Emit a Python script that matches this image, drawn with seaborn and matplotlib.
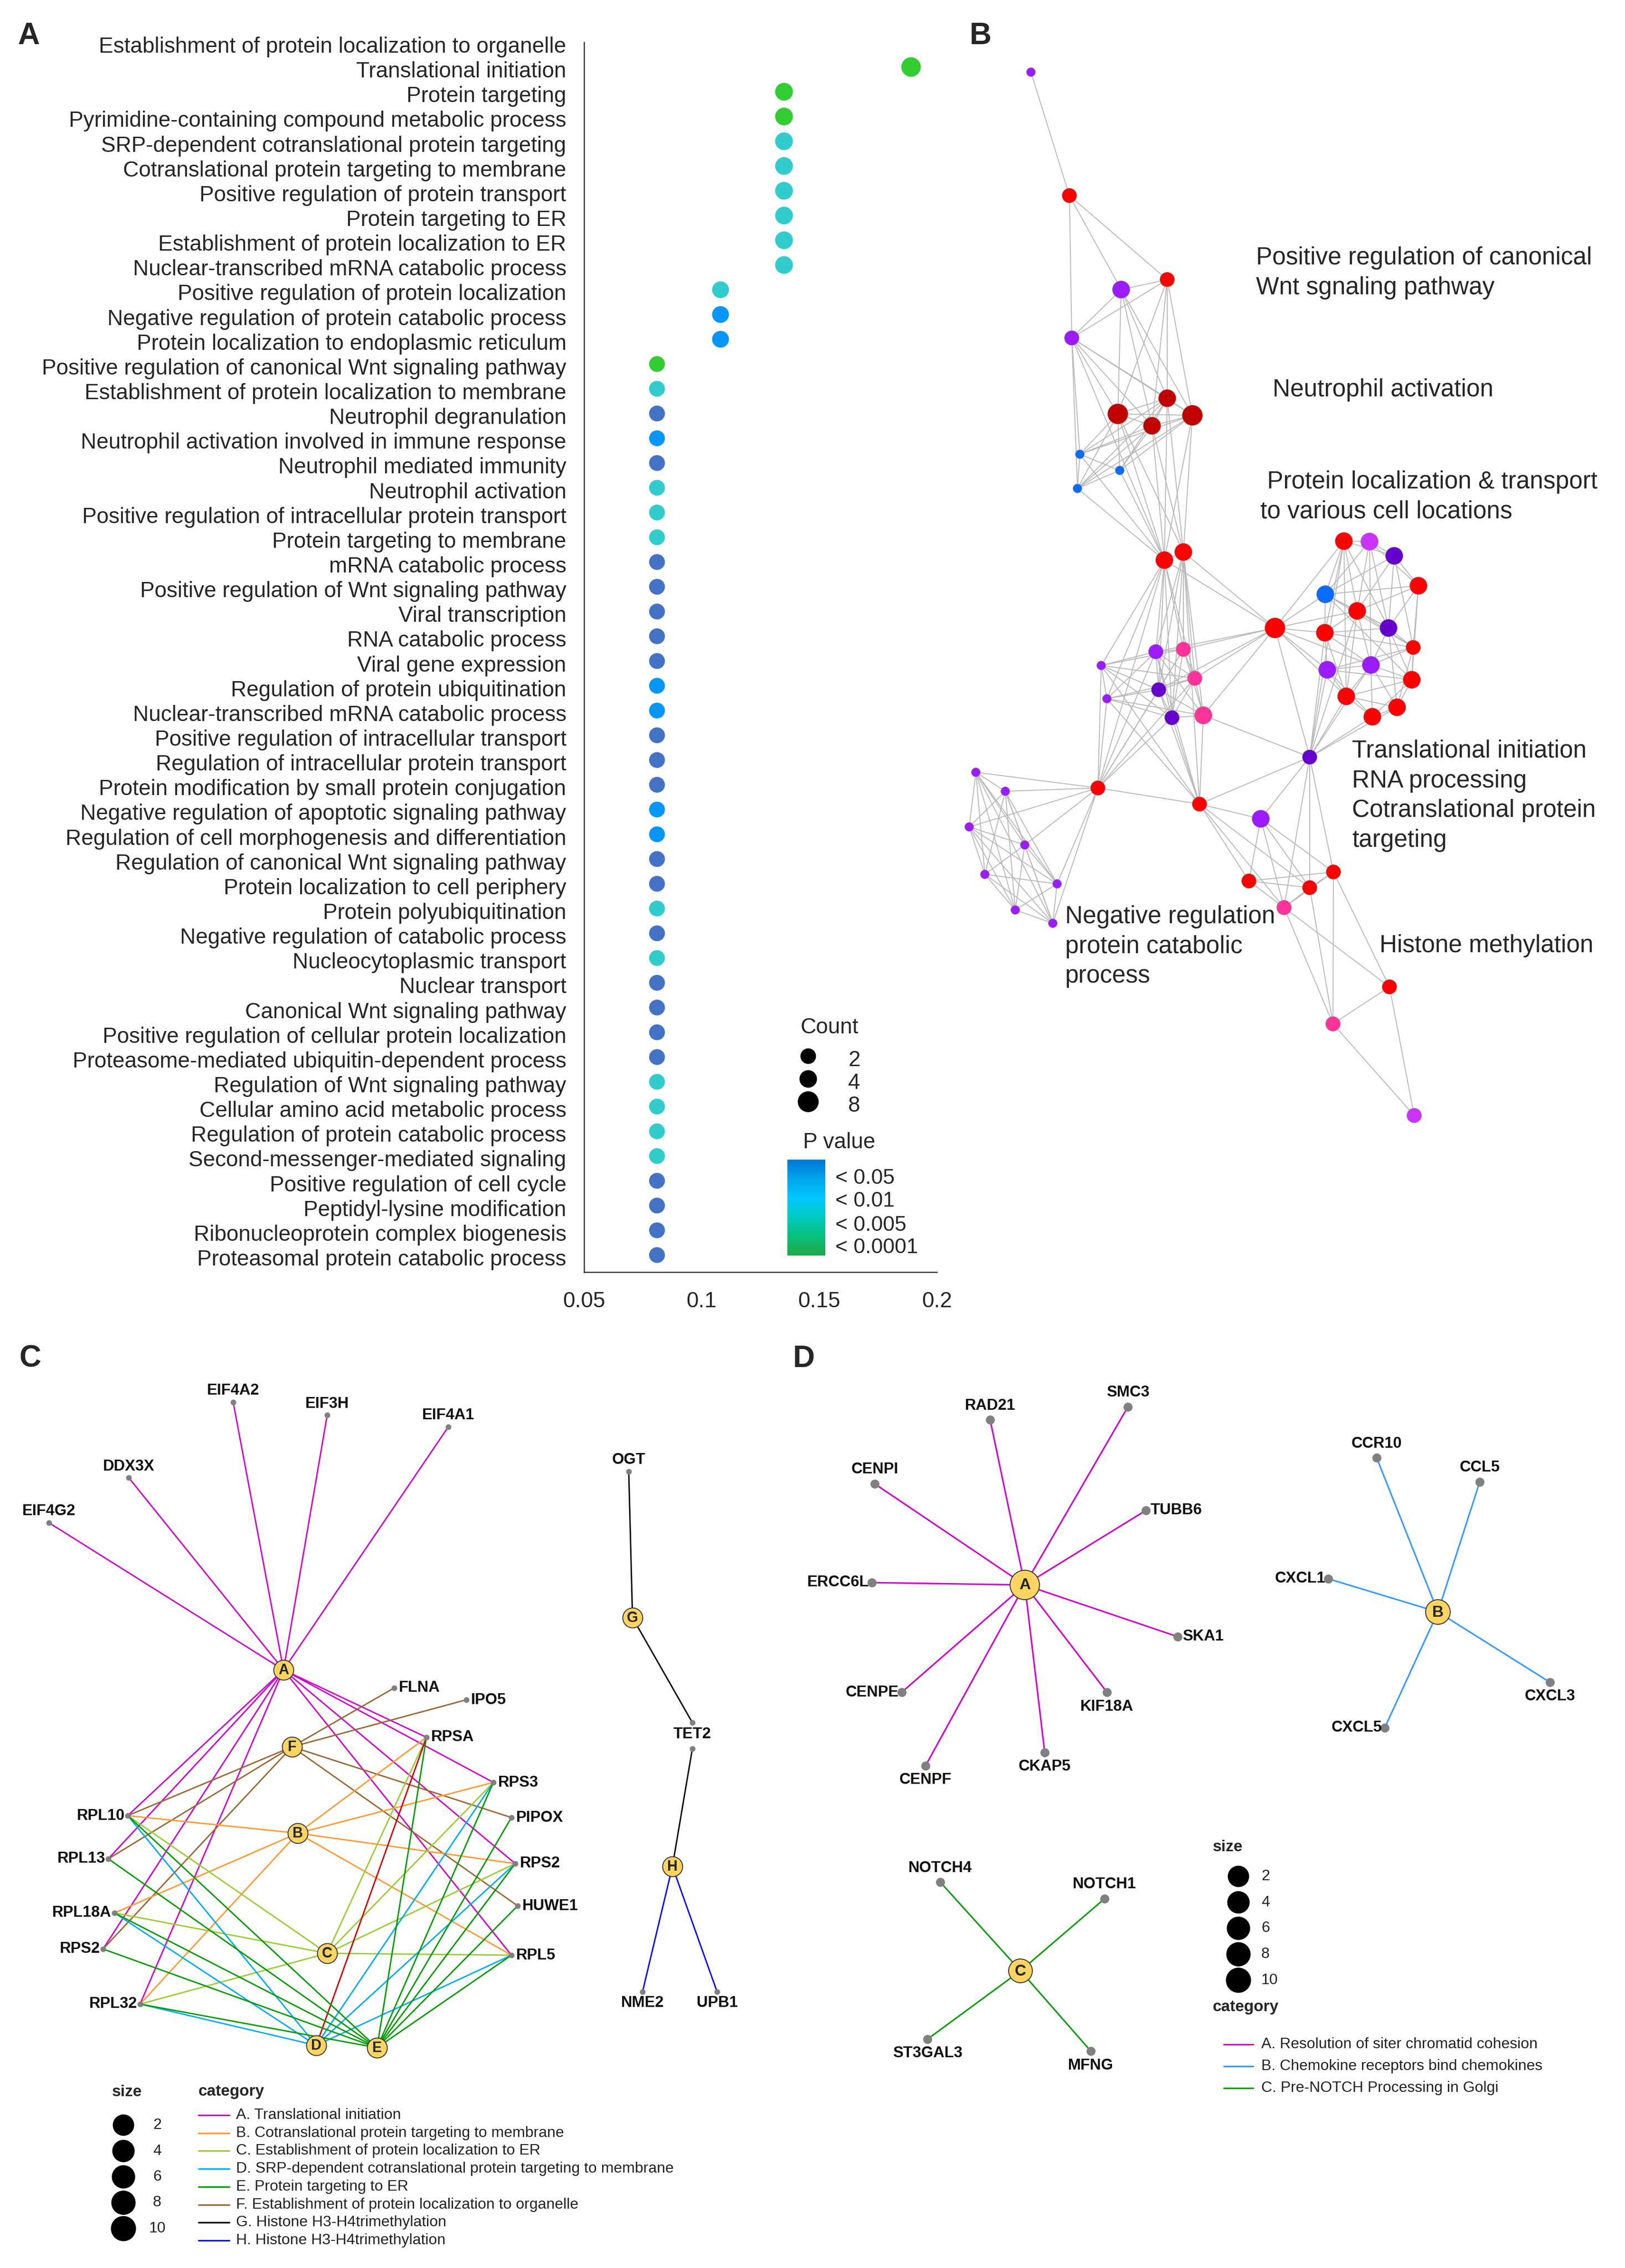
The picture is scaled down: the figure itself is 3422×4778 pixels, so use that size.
import numpy as np
import pandas as pd
import matplotlib
matplotlib.use("Agg")
import matplotlib.pyplot as plt
import seaborn as sns
from matplotlib.collections import LineCollection
from matplotlib.colors import LinearSegmentedColormap, Normalize
from matplotlib.cm import ScalarMappable
from matplotlib.transforms import ScaledTranslation

W, H, DPI = 3422, 4778, 100

# ---------------- panel A: GO enrichment dot plot ----------------
go_terms = [
    "Establishment of protein localization to organelle",
    "Translational initiation",
    "Protein targeting",
    "Pyrimidine-containing compound metabolic process",
    "SRP-dependent cotranslational protein targeting",
    "Cotranslational protein targeting to membrane",
    "Positive regulation of protein transport",
    "Protein targeting to ER",
    "Establishment of protein localization to ER",
    "Nuclear-transcribed mRNA catabolic process",
    "Positive regulation of protein localization",
    "Negative regulation of protein catabolic process",
    "Protein localization to endoplasmic reticulum",
    "Positive regulation of canonical Wnt signaling pathway",
    "Establishment of protein localization to membrane",
    "Neutrophil degranulation",
    "Neutrophil activation involved in immune response",
    "Neutrophil mediated immunity",
    "Neutrophil activation",
    "Positive regulation of intracellular protein transport",
    "Protein targeting to membrane",
    "mRNA catabolic process",
    "Positive regulation of Wnt signaling pathway",
    "Viral transcription",
    "RNA catabolic process",
    "Viral gene expression",
    "Regulation of protein ubiquitination",
    "Nuclear-transcribed mRNA catabolic process",
    "Positive regulation of intracellular transport",
    "Regulation of intracellular protein transport",
    "Protein modification by small protein conjugation",
    "Negative regulation of apoptotic signaling pathway",
    "Regulation of cell morphogenesis and differentiation",
    "Regulation of canonical Wnt signaling pathway",
    "Protein localization to cell periphery",
    "Protein polyubiquitination",
    "Negative regulation of catabolic process",
    "Nucleocytoplasmic transport",
    "Nuclear transport",
    "Canonical Wnt signaling pathway",
    "Positive regulation of cellular protein localization",
    "Proteasome-mediated ubiquitin-dependent process",
    "Regulation of Wnt signaling pathway",
    "Cellular amino acid metabolic process",
    "Regulation of protein catabolic process",
    "Second-messenger-mediated signaling",
    "Positive regulation of cell cycle",
    "Peptidyl-lysine modification",
    "Ribonucleoprotein complex biogenesis",
    "Proteasomal protein catabolic process",
]
gene_count = [8, 7, 5, 5, 5, 5, 5, 5, 5, 5, 4, 4, 4,
              3, 3, 3, 3, 3, 3, 3, 3, 3, 3, 3, 3, 3, 3, 3, 3, 3, 3, 3, 3,
              3, 3, 3, 3, 3, 3, 3, 3, 3, 3, 3, 3, 3, 3, 3, 3, 3]
gene_ratio = [0.216, 0.189, 0.135, 0.135, 0.135, 0.135, 0.135, 0.135, 0.135, 0.135,
              0.108, 0.108, 0.108,
              0.081, 0.081, 0.081, 0.081, 0.081, 0.081, 0.081, 0.081, 0.081, 0.081,
              0.081, 0.081, 0.081, 0.081, 0.081, 0.081, 0.081, 0.081, 0.081, 0.081,
              0.081, 0.081, 0.081, 0.081, 0.081, 0.081, 0.081, 0.081, 0.081, 0.081,
              0.081, 0.081, 0.081, 0.081, 0.081, 0.081, 0.081]
p_level = ["< 0.0001", "< 0.0001", "< 0.0001", "< 0.0001",
           "< 0.005", "< 0.005", "< 0.005", "< 0.005", "< 0.005", "< 0.005", "< 0.005",
           "< 0.01", "< 0.01", "< 0.0001", "< 0.005",
           "< 0.05", "< 0.01", "< 0.05", "< 0.005", "< 0.005", "< 0.005",
           "< 0.05", "< 0.05", "< 0.05", "< 0.05", "< 0.05",
           "< 0.01", "< 0.01", "< 0.05", "< 0.05", "< 0.05", "< 0.01", "< 0.01",
           "< 0.05", "< 0.05", "< 0.005", "< 0.05", "< 0.005",
           "< 0.05", "< 0.05", "< 0.05", "< 0.05",
           "< 0.005", "< 0.005", "< 0.005", "< 0.005",
           "< 0.05", "< 0.05", "< 0.05", "< 0.05"]
p_labels = ["< 0.05", "< 0.01", "< 0.005", "< 0.0001"]
p_colors = {"< 0.05": "#4472c4", "< 0.01": "#0896f7",
            "< 0.005": "#33cccc", "< 0.0001": "#33cc33"}
count_levels = [2, 4, 8]
ratio_ticks = [0.05, 0.1, 0.15, 0.2]
ratio_ticklabels = ["0.05", "0.1", "0.15", "0.2"]

# ---------------- panel B: enrichment map network ----------------
b_x = [2171, 2252, 2361, 2458, 2257, 2354, 2458, 2426, 2511, 2274, 2358, 2269, 2452, 2492,
       2685, 2830, 2884, 2936, 2987, 2791, 2858, 2790, 2924, 2976, 2434, 2492, 2319, 2516,
       2440, 2331, 2468, 2534, 2795, 2887, 2973, 2835, 2942, 2890, 2758, 2312, 2526, 2655,
       2055, 2117, 2041, 2158, 2074, 2226, 2138, 2217, 2808, 2630, 2758, 2704, 2926, 2807, 2978]
b_y = [152, 412, 610, 589, 712, 872, 839, 897, 875, 957, 991, 1029, 1180, 1163,
       1323, 1140, 1141, 1171, 1234, 1252, 1287, 1333, 1323, 1364, 1373, 1368, 1402, 1429,
       1453, 1472, 1512, 1507, 1411, 1401, 1432, 1467, 1490, 1510, 1595, 1660, 1694, 1725,
       1627, 1667, 1742, 1780, 1842, 1862, 1917, 1945, 1837, 1856, 1870, 1912, 2079, 2157, 2350]
b_color = ["violet", "red", "violet", "red", "violet", "darkred", "darkred", "darkred", "darkred",
           "blue", "blue", "blue", "red", "red", "red", "red", "magenta", "indigo", "red", "blue",
           "red", "red", "indigo", "red", "violet", "pink", "violet", "pink", "indigo", "violet",
           "indigo", "pink", "violet", "violet", "red", "red", "red", "red", "indigo", "red", "red",
           "violet", "violet", "violet", "violet", "violet", "violet", "violet", "violet", "violet",
           "red", "red", "red", "pink", "red", "pink", "magenta"]
b_size = ["S", "M", "L", "M", "M", "XL", "L", "L", "XL", "S", "S", "S", "L", "L",
          "XL", "L", "L", "L", "L", "L", "L", "L", "L", "M", "M", "M", "S", "M",
          "M", "S", "M", "L", "L", "L", "L", "L", "L", "L", "M", "M", "M", "L",
          "S", "S", "S", "S", "S", "S", "S", "S", "M", "M", "M", "M", "M", "M", "M"]
b_palette = {"red": "#ff0000", "darkred": "#c00000", "violet": "#9a1cff", "indigo": "#6600cc",
             "magenta": "#cc33ff", "pink": "#ff3399", "blue": "#0a6cff"}
# node numbers (1-based) joined by similarity edges
b_edges = [
    (1, 2), (2, 3), (2, 4), (2, 5), (3, 4), (3, 5), (4, 5),
    (3, 6), (3, 7), (3, 8), (3, 9), (4, 6), (4, 7), (4, 8), (4, 9),
    (5, 6), (5, 7), (5, 8), (5, 9), (5, 10), (5, 12), (5, 13),
    (6, 7), (6, 8), (6, 9), (7, 8), (7, 9), (8, 9),
    (10, 6), (10, 7), (10, 8), (10, 9), (11, 6), (11, 7), (11, 8), (11, 9),
    (12, 6), (12, 7), (12, 8), (12, 9), (10, 11), (10, 12), (11, 12),
    (12, 13), (11, 13), (10, 13), (6, 13), (7, 13), (8, 13), (8, 14), (9, 14), (9, 13),
    (7, 14), (6, 14), (13, 14),
    (13, 25), (13, 27), (13, 30), (13, 28), (13, 29), (13, 31), (13, 26), (13, 40),
    (14, 25), (14, 26), (14, 28), (14, 29), (14, 31), (14, 32), (14, 41), (13, 15), (14, 15),
    (15, 25), (15, 26), (15, 28), (15, 29), (15, 32), (15, 16), (15, 20), (15, 21), (15, 22),
    (15, 33), (15, 36), (15, 34), (15, 39),
    (16, 17), (16, 18), (16, 20), (16, 21), (16, 22), (16, 23), (16, 36), (17, 18), (17, 19),
    (17, 21), (17, 23), (17, 34), (17, 20), (18, 19), (18, 20), (18, 23), (18, 24), (18, 21),
    (19, 20), (19, 23), (19, 24), (19, 21), (19, 35), (20, 21), (20, 23), (20, 24), (20, 35),
    (20, 22), (21, 22), (21, 23), (21, 24), (21, 34), (21, 36), (22, 23), (22, 33), (22, 36),
    (22, 34), (22, 24), (23, 24), (23, 34), (23, 35), (23, 37), (24, 34), (24, 35), (24, 33),
    (24, 37), (33, 34), (33, 36), (33, 38), (33, 35), (34, 35), (34, 36), (34, 37), (34, 38),
    (35, 37), (35, 38), (35, 36), (36, 37), (36, 38), (37, 38),
    (39, 33), (39, 34), (39, 36), (39, 38), (39, 37), (39, 22), (39, 16), (39, 21), (39, 32),
    (39, 41), (39, 42), (39, 51), (39, 53), (39, 54),
    (25, 26), (25, 27), (25, 28), (25, 29), (25, 30), (25, 31), (25, 32), (26, 28), (26, 29),
    (26, 32), (26, 27), (27, 28), (27, 29), (27, 30), (27, 31), (28, 29), (28, 30), (28, 31),
    (28, 32), (29, 30), (29, 31), (29, 32), (30, 31), (30, 32), (31, 32), (26, 31),
    (40, 27), (40, 30), (40, 25), (40, 29), (40, 28), (40, 31), (40, 26), (40, 43), (40, 44),
    (40, 45), (40, 46), (40, 48), (40, 50), (40, 41),
    (41, 31), (41, 29), (41, 25), (41, 30), (41, 27), (41, 32), (41, 42), (41, 52), (41, 54),
    (41, 53),
    (43, 44), (43, 45), (43, 46), (43, 47), (43, 48), (43, 49), (43, 50), (44, 45), (44, 46),
    (44, 47), (44, 48), (44, 49), (44, 50), (45, 46), (45, 47), (45, 48), (45, 49), (46, 47),
    (46, 48), (46, 49), (46, 50), (47, 48), (47, 49), (47, 50), (48, 49), (48, 50), (49, 50),
    (45, 50),
    (42, 51), (42, 52), (42, 53), (42, 54), (51, 52), (51, 53), (51, 54), (52, 53), (52, 54),
    (53, 54), (54, 55), (54, 56), (51, 55), (51, 56), (53, 56), (55, 56), (56, 57), (55, 57),
]
b_labels = ["Positive regulation of canonical\nWnt sgnaling pathway",
            "Neutrophil activation",
            " Protein localization & transport\nto various cell locations",
            "Translational initiation\nRNA processing\nCotranslational protein\ntargeting",
            "Negative regulation\nprotein catabolic\nprocess",
            "Histone methylation"]

# ---------------- panel C: gene-concept network ----------------
c_gene_id = ["EIF4A2", "EIF3H", "EIF4A1", "DDX3X", "EIF4G2", "OGT", "TET2_g", "TET2_h",
             "NME2", "UPB1", "FLNA", "IPO5", "RPSA", "RPS3", "PIPOX", "RPS2_r", "HUWE1",
             "RPL5", "RPL10", "RPL13", "RPL18A", "RPS2_l", "RPL32"]
c_gene_label = ["EIF4A2", "EIF3H", "EIF4A1", "DDX3X", "EIF4G2", "OGT", "TET2", "",
                "NME2", "UPB1", "FLNA", "IPO5", "RPSA", "RPS3", "PIPOX", "RPS2", "HUWE1",
                "RPL5", "RPL10", "RPL13", "RPL18A", "RPS2", "RPL32"]
c_gene_side = ["top", "top", "top", "top", "top", "top", "bottom", "none", "bottom", "bottom",
               "right", "right", "right", "right", "right", "right", "right", "right",
               "left", "left", "left", "left", "left"]
c_gene_x = [491, 689, 944, 271, 103, 1324, 1458, 1458, 1353, 1510, 830, 982, 898, 1039,
            1077, 1085, 1090, 1077, 269, 228, 241, 217, 295]
c_gene_y = [2954, 2981, 3006, 3113, 3208, 3100, 3629, 3684, 4196, 4196, 3556, 3581, 3660,
            3755, 3829, 3926, 4015, 4119, 3825, 3916, 4030, 4106, 4222]
c_cat = ["A", "B", "C", "D", "E", "F", "G", "H"]
c_cat_x = [597, 627, 689, 666, 794, 615, 1332, 1416]
c_cat_y = [3518, 3862, 4115, 4309, 4314, 3680, 3408, 3932]
c_cat_colors = {"A": "#cc00cc", "B": "#ff9933", "C": "#99cc33", "D": "#00aaee",
                "E": "#009900", "F": "#996633", "G": "#000000", "H": "#0000ff",
                "X": "#cc0000"}
c_edges = [
    ("A", "EIF4A2", "A"), ("A", "EIF3H", "A"), ("A", "EIF4A1", "A"), ("A", "DDX3X", "A"),
    ("A", "EIF4G2", "A"), ("A", "RPL10", "A"), ("A", "RPL13", "A"), ("A", "RPS2_l", "A"),
    ("A", "RPL32", "A"), ("A", "RPSA", "A"), ("A", "RPS3", "A"), ("A", "RPS2_r", "A"),
    ("A", "RPL5", "A"),
    ("F", "FLNA", "F"), ("F", "IPO5", "F"), ("F", "RPL10", "F"), ("F", "RPL13", "F"),
    ("F", "RPS2_l", "F"), ("F", "PIPOX", "F"), ("F", "HUWE1", "F"),
    ("B", "RPL10", "B"), ("B", "RPL18A", "B"), ("B", "RPL32", "B"), ("B", "RPSA", "B"),
    ("B", "RPS3", "B"), ("B", "RPS2_r", "B"), ("B", "RPL5", "B"),
    ("C", "RPL10", "C"), ("C", "RPL18A", "C"), ("C", "RPL32", "C"), ("C", "RPSA", "C"),
    ("C", "RPS3", "C"), ("C", "RPS2_r", "C"), ("C", "RPL5", "C"),
    ("D", "RPL10", "D"), ("D", "RPL18A", "D"), ("D", "RPL32", "D"), ("D", "RPS3", "D"),
    ("D", "RPS2_r", "D"), ("D", "RPL5", "D"), ("D", "RPSA", "X"),
    ("E", "RPL13", "E"), ("E", "RPL18A", "E"), ("E", "RPS2_l", "E"), ("E", "RPL32", "E"),
    ("E", "RPL10", "E"), ("E", "RPSA", "E"), ("E", "RPS3", "E"), ("E", "PIPOX", "E"),
    ("E", "RPS2_r", "E"), ("E", "HUWE1", "E"), ("E", "RPL5", "E"),
    ("G", "OGT", "G"), ("G", "TET2_g", "G"), ("H", "TET2_h", "G"),
    ("H", "NME2", "H"), ("H", "UPB1", "H"),
]
c_legend_text = ["A. Translational initiation",
                 "B. Cotranslational protein targeting to membrane",
                 "C. Establishment of protein localization to ER",
                 "D. SRP-dependent cotranslational protein targeting to membrane",
                 "E. Protein targeting to ER",
                 "F. Establishment of protein localization to organelle",
                 "G. Histone H3-H4trimethylation",
                 "H. Histone H3-H4trimethylation"]
size_levels = [2, 4, 6, 8, 10]

# ---------------- panel D: gene-concept network ----------------
d_gene = ["RAD21", "SMC3", "CENPI", "TUBB6", "ERCC6L", "SKA1", "CENPE", "KIF18A", "CKAP5",
          "CENPF", "CCR10", "CCL5", "CXCL1", "CXCL3", "CXCL5", "NOTCH4", "NOTCH1",
          "ST3GAL3", "MFNG"]
d_gene_side = ["top", "top", "top", "right", "left", "right", "left", "bottom", "bottom",
               "bottom", "top", "top", "left", "bottom", "left", "top", "top", "bottom", "bottom"]
d_gene_x = [2085, 2375, 1842, 2413, 1836, 2480, 1899, 2331, 2200, 1949, 2899, 3116, 2797,
            3264, 2916, 1980, 2326, 1953, 2297]
d_gene_y = [2991, 2964, 3126, 3182, 3334, 3448, 3565, 3565, 3692, 3720, 3071, 3122, 3326,
            3544, 3640, 3965, 4000, 4296, 4321]
d_gene_cat = ["A", "A", "A", "A", "A", "A", "A", "A", "A", "A", "B", "B", "B", "B", "B",
              "C", "C", "C", "C"]
d_cat = ["A", "B", "C"]
d_cat_x = [2158, 3028, 2149]
d_cat_y = [3339, 3396, 4152]
d_cat_count = [11, 5, 4]
d_cat_colors = {"A": "#cc00cc", "B": "#3399ff", "C": "#129912"}
d_legend_text = ["A. Resolution of siter chromatid cohesion",
                 "B. Chemokine receptors bind chemokines",
                 "C. Pre-NOTCH Processing in Golgi"]


def psize(d):
    # pixel diameter -> scatter area in pt^2
    return (d * 72.0 / DPI) ** 2


def gene_label(ax, x, y, text, side, gap, size):
    kw = dict(fontsize=size, fontweight="bold", color="#111111", zorder=5)
    if side == "top":
        ax.text(x, y - gap, text, ha="center", va="center", **kw)
    elif side == "bottom":
        ax.text(x, y + gap, text, ha="center", va="center", **kw)
    elif side == "left":
        ax.text(x - 6, y, text, ha="right", va="center", **kw)
    elif side == "right":
        ax.text(x + 10, y, text, ha="left", va="center", **kw)


sns.set_style("white")
plt.rcParams["font.family"] = ["Liberation Sans", "DejaVu Sans"]

fig = plt.figure(figsize=(W / DPI, H / DPI), dpi=DPI)

# overlay in pixel coordinates for networks / legends / annotations
net = fig.add_axes([0, 0, 1, 1])
net.set_axis_off()

# ---- panel A
axA = fig.add_axes([1230 / W, 1 - 2680 / H, 743 / W, 2591 / H])
dfA = pd.DataFrame({"term": go_terms, "ratio": gene_ratio, "count": gene_count, "p": p_level})
dfA["row"] = np.arange(1, len(dfA) + 1)
sns.scatterplot(data=dfA, x="ratio", y="row", hue="p", palette=p_colors, size="count",
                sizes=(500, 950), size_norm=(2, 8), linewidth=0, legend=False, ax=axA)
axA.set_xlim(0.05, 0.2)
axA.set_ylim(50.69, 1.0)
axA.set_yticks(dfA["row"])
axA.set_yticklabels(dfA["term"], fontsize=33)
axA.set_xticks(ratio_ticks)
axA.set_xticklabels(ratio_ticklabels, fontsize=33)
axA.set_xlabel("")
axA.set_ylabel("")
sns.despine(ax=axA)
for s in ["left", "bottom"]:
    axA.spines[s].set_color("#333333")
    axA.spines[s].set_linewidth(1.8)
axA.tick_params(axis="y", direction="out", length=7, width=1.6, color="#333333", pad=20)
axA.tick_params(axis="x", direction="out", length=9, width=1.6, color="#333333", pad=20)
# term labels sit a little below their tick marks in the original
shift = ScaledTranslation(0, -0.05, fig.dpi_scale_trans)
for lab in axA.get_yticklabels():
    lab.set_transform(lab.get_transform() + shift)
axA.patch.set_alpha(0)

# count legend
dfC = pd.DataFrame({"count": count_levels, "x": [1702] * 3,
                    "y": [2225 + 48 * i for i in range(3)]})
sns.scatterplot(data=dfC, x="x", y="y", size="count", sizes=(560, 1000), size_norm=(2, 8),
                color="black", linewidth=0, legend=False, ax=net)
for c, y in zip(dfC["count"], dfC["y"]):
    net.text(1799, y + 9, str(c), ha="center", va="center", fontsize=33)
net.text(1747, 2165, "Count", ha="center", va="center", fontsize=33)
net.text(1767, 2407, "P value", ha="center", va="center", fontsize=33)

# p value colour bar
cmap = LinearSegmentedColormap.from_list(
    "pv", ["#22a64a", "#08c07c", "#00cbbf", "#00c8ff", "#00a6ec", "#0076d6"])
cax = fig.add_axes([1658 / W, 1 - 2645 / H, 80 / W, 202 / H])
cb = fig.colorbar(ScalarMappable(norm=Normalize(0, 1), cmap=cmap), cax=cax,
                  ticks=[0.827, 0.589, 0.337, 0.104])
cb.set_ticklabels(p_labels)
cb.outline.set_visible(False)
cax.tick_params(length=0, pad=15, labelsize=32)

# ---- panel B
dfB = pd.DataFrame({"x": b_x, "y": b_y, "col": b_color, "sz": b_size})
segB = [[(b_x[i - 1], b_y[i - 1]), (b_x[j - 1], b_y[j - 1])] for i, j in b_edges]
net.add_collection(LineCollection(segB, colors="#b8b8b8", linewidths=1.4, zorder=1))
sns.scatterplot(data=dfB, x="x", y="y", hue="col", palette=b_palette, size="sz",
                sizes={"S": psize(19), "M": psize(31), "L": psize(37), "XL": psize(43)},
                edgecolor="#9a9a9a", linewidth=0.6, legend=False, ax=net, zorder=3)
b_label_xy = [(2645, 543), (2680, 821), (2654, 1015), (2847, 1582), (2243, 1931), (2905, 1992)]
for (lx, ly), txt in zip(b_label_xy, b_labels):
    net.text(lx, ly - 24, txt, ha="left", va="top", fontsize=37, linespacing=1.36)

# ---- panel C
c_pos = {g: (x, y) for g, x, y in zip(c_gene_id, c_gene_x, c_gene_y)}
c_cpos = {c: (x, y) for c, x, y in zip(c_cat, c_cat_x, c_cat_y)}
segC = [[c_cpos[a], c_pos[g]] for a, g, k in c_edges]
colC = [c_cat_colors[k] for a, g, k in c_edges]
net.add_collection(LineCollection(segC, colors=colC, linewidths=2.1, zorder=1))
sns.scatterplot(x=c_gene_x, y=c_gene_y, color="#808080", s=psize(12), linewidth=0,
                ax=net, zorder=3)
sns.scatterplot(x=c_cat_x, y=c_cat_y, color="#fcd462", s=psize(42), edgecolor="#333333",
                linewidth=1.4, ax=net, zorder=4)
for c, x, y in zip(c_cat, c_cat_x, c_cat_y):
    net.text(x, y + 1, c, ha="center", va="center", fontsize=22, fontweight="bold", zorder=5)
for lab, side, x, y in zip(c_gene_label, c_gene_side, c_gene_x, c_gene_y):
    gene_label(net, x, y, lab, side, 24, 23.5)

# C legend
dfS1 = pd.DataFrame({"size": size_levels, "x": [260] * 5,
                     "y": [4477 + 54.5 * i for i in range(5)]})
sns.scatterplot(data=dfS1, x="x", y="y", size="size", sizes=(psize(45), psize(53)),
                size_norm=(2, 10), color="black", linewidth=0, legend=False, ax=net)
for v, y in zip(dfS1["size"], dfS1["y"]):
    net.text(331, y, str(v), ha="center", va="center", fontsize=23, color="#222222")
net.text(236, 4407, "size", ha="left", va="center", fontsize=24, fontweight="bold")
net.text(418, 4407, "category", ha="left", va="center", fontsize=24, fontweight="bold")
for i, (c, txt) in enumerate(zip(c_cat, c_legend_text)):
    y = 4456 + 37.7 * i
    net.plot([418, 483], [y, y], color=c_cat_colors[c], lw=2.4)
    net.text(497, y, txt, ha="left", va="center", fontsize=23, color="#222222")

# ---- panel D
d_cpos = {c: (x, y) for c, x, y in zip(d_cat, d_cat_x, d_cat_y)}
segD = [[d_cpos[c], (x, y)] for c, x, y in zip(d_gene_cat, d_gene_x, d_gene_y)]
colD = [d_cat_colors[c] for c in d_gene_cat]
net.add_collection(LineCollection(segD, colors=colD, linewidths=2.3, zorder=1))
sns.scatterplot(x=d_gene_x, y=d_gene_y, color="#808080", s=psize(19), linewidth=0,
                ax=net, zorder=3)
dfDc = pd.DataFrame({"x": d_cat_x, "y": d_cat_y, "n": d_cat_count})
sns.scatterplot(data=dfDc, x="x", y="y", size="n", sizes=(psize(50), psize(62)),
                size_norm=(4, 11), color="#fcd462", edgecolor="#333333", linewidth=1.4,
                legend=False, ax=net, zorder=4)
for c, x, y in zip(d_cat, d_cat_x, d_cat_y):
    net.text(x, y + 1, c, ha="center", va="center", fontsize=24, fontweight="bold", zorder=5)
for lab, side, x, y in zip(d_gene, d_gene_side, d_gene_x, d_gene_y):
    gene_label(net, x, y, lab, side, 30, 23.5)

dfS2 = pd.DataFrame({"size": size_levels, "x": [2608] * 5,
                     "y": [3953 + 54.7 * i for i in range(5)]})
sns.scatterplot(data=dfS2, x="x", y="y", size="size", sizes=(psize(45), psize(53)),
                size_norm=(2, 10), color="black", linewidth=0, legend=False, ax=net)
for v, y in zip(dfS2["size"], dfS2["y"]):
    net.text(2656, y, str(v), ha="left", va="center", fontsize=23, color="#222222")
net.text(2554, 3891, "size", ha="left", va="center", fontsize=24, fontweight="bold")
net.text(2554, 4229, "category", ha="left", va="center", fontsize=24, fontweight="bold")
for i, (c, txt) in enumerate(zip(d_cat, d_legend_text)):
    y = 4307 + 46 * i
    net.plot([2577, 2639], [y, y], color=d_cat_colors[c], lw=2.4)
    net.text(2656, y, txt, ha="left", va="center", fontsize=23, color="#222222")

# panel letters
for letter, (x, y) in zip("ABCD", [(60, 76), (2065, 76), (63, 2863), (1693, 2863)]):
    net.text(x, y, letter, ha="center", va="center", fontsize=46, fontweight="bold")

net.set_xlim(0, W)
net.set_ylim(H, 0)
net.set_axis_off()

fig.savefig("out.png", dpi=DPI)
